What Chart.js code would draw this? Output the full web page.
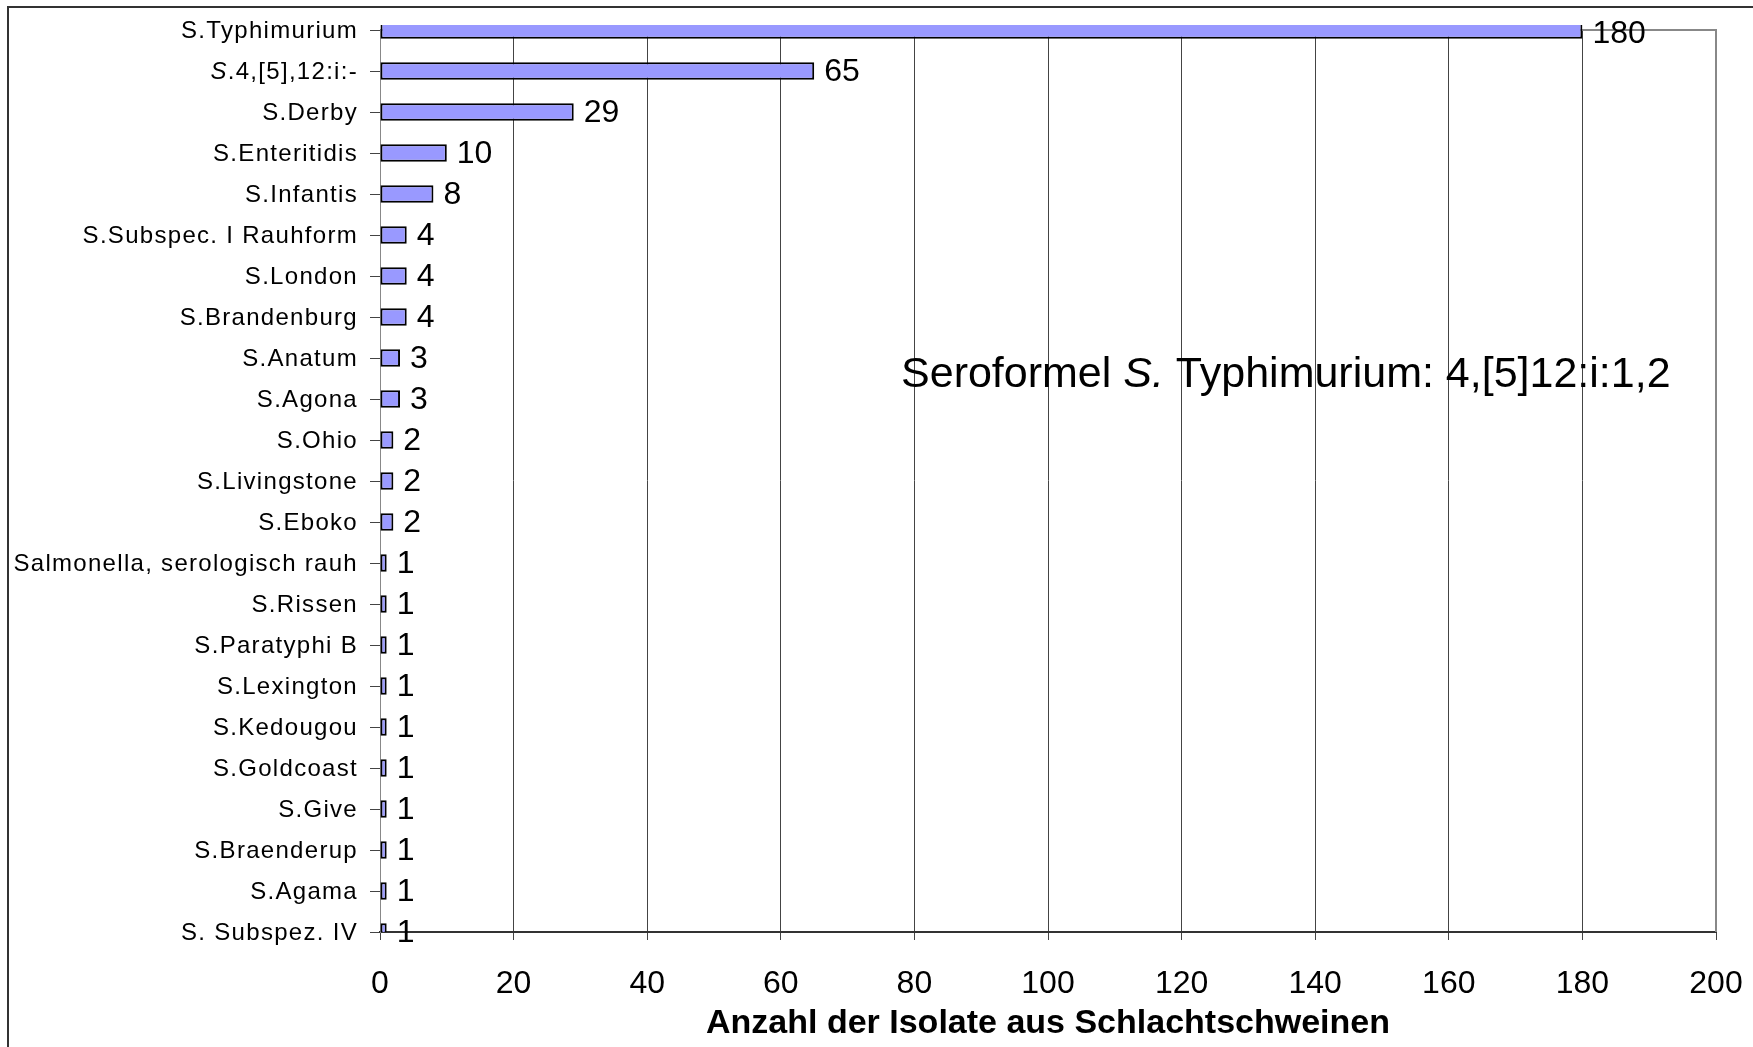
<!DOCTYPE html>
<html>
<head>
<meta charset="utf-8">
<script src="https://cdn.jsdelivr.net/npm/chart.js@4.4.1/dist/chart.umd.min.js"></script>
<style>
  html, body { margin: 0; padding: 0; background: #fff; }
  canvas { display: block; }
</style>
</head>
<body>
<canvas id="chart" width="1753" height="1047"></canvas>
<script>
// serovars (top to bottom) and number of isolates
const serovars = [
  'S.Typhimurium', 'S.4,[5],12:i:-', 'S.Derby', 'S.Enteritidis', 'S.Infantis',
  'S.Subspec. I Rauhform', 'S.London', 'S.Brandenburg', 'S.Anatum', 'S.Agona',
  'S.Ohio', 'S.Livingstone', 'S.Eboko', 'Salmonella, serologisch rauh', 'S.Rissen',
  'S.Paratyphi B', 'S.Lexington', 'S.Kedougou', 'S.Goldcoast', 'S.Give',
  'S.Braenderup', 'S.Agama', 'S. Subspez. IV'
];
const isolates = [180, 65, 29, 10, 8, 4, 4, 4, 3, 3, 2, 2, 2, 1, 1, 1, 1, 1, 1, 1, 1, 1, 1];
const xTickValues = [0, 20, 40, 60, 80, 100, 120, 140, 160, 180, 200];
const xTitle = 'Anzahl der Isolate aus Schlachtschweinen';
// italic genus prefix for some labels
const italicPrefix = { 1: 'S' };
// note text, [text, italic]
const noteParts = [['Seroformel ', false], ['S.', true], [' Typhimurium: 4,[5]12:i:1,2', false]];
const noteAt = { x: 78, y: 8.7 };

const FONT = '"Liberation Sans", Arial, Helvetica, sans-serif';

function drawParts(ctx, parts, x, y, size, align) {
  const widths = parts.map(p => {
    ctx.font = (p[1] ? 'italic ' : '') + size + 'px ' + FONT;
    return ctx.measureText(p[0]).width;
  });
  const total = widths.reduce((a, b) => a + b, 0);
  let cx = align === 'right' ? x - total : x;
  ctx.textAlign = 'left';
  parts.forEach((p, i) => {
    ctx.font = (p[1] ? 'italic ' : '') + size + 'px ' + FONT;
    ctx.fillText(p[0], cx, y);
    cx += widths[i];
  });
}

const decor = {
  id: 'decor',
  beforeDraw(chart) {
    const ctx = chart.ctx;
    ctx.save();
    ctx.strokeStyle = '#333';
    ctx.lineWidth = 2;
    ctx.beginPath();
    ctx.moveTo(8, chart.height);
    ctx.lineTo(8, 7);
    ctx.lineTo(chart.width, 7);
    ctx.stroke();
    ctx.restore();
  },
  beforeDatasetsDraw(chart) {
    const ctx = chart.ctx, a = chart.chartArea;
    ctx.save();
    ctx.strokeStyle = '#888';
    ctx.lineWidth = 2;
    ctx.beginPath();
    ctx.moveTo(a.left, a.top);
    ctx.lineTo(a.right, a.top);
    ctx.lineTo(a.right, a.bottom);
    ctx.stroke();
    ctx.restore();
  },
  afterDatasetsDraw(chart) {
    const ctx = chart.ctx;
    const meta = chart.getDatasetMeta(0);
    const xs = chart.scales.x, ys = chart.scales.y;
    ctx.save();
    ctx.fillStyle = '#000';
    ctx.textBaseline = 'middle';
    ctx.textAlign = 'left';
    ctx.font = '32px ' + FONT;
    meta.data.forEach((bar, i) => {
      ctx.fillText(String(isolates[i]), bar.x + 10, bar.y + (i === 0 ? 4 : 1));
    });

    // category labels
    if ('letterSpacing' in ctx) ctx.letterSpacing = '1.3px';
    const lx = ys.right - 22;
    serovars.forEach((lab, i) => {
      const y = ys.getPixelForTick(i) + 1;
      const pre = italicPrefix[i];
      const parts = pre ? [[pre, true], [lab.slice(pre.length), false]] : [[lab, false]];
      drawParts(ctx, parts, lx, y, 24, 'right');
    });
    if ('letterSpacing' in ctx) ctx.letterSpacing = '0px';

    // note
    ctx.textBaseline = 'alphabetic';
    drawParts(ctx, noteParts, xs.getPixelForValue(noteAt.x), ys.getPixelForValue(noteAt.y), 43, 'left');
    ctx.restore();
  }
};

new Chart(document.getElementById('chart'), {
  type: 'bar',
  data: {
    labels: serovars,
    datasets: [{
      data: isolates,
      backgroundColor: '#9999ff',
      borderColor: '#000',
      borderWidth: 2,
      borderSkipped: false,
      barPercentage: 0.43,
      categoryPercentage: 1,
      clip: { left: 0, top: 5, right: 0, bottom: 0 }
    }]
  },
  options: {
    indexAxis: 'y',
    responsive: false,
    animation: false,
    devicePixelRatio: 1,
    layout: { padding: { top: 30, right: 37, left: 0, bottom: 0 } },
    plugins: { legend: { display: false }, tooltip: { enabled: false } },
    scales: {
      x: {
        type: 'linear',
        min: 0,
        max: 200,
        afterBuildTicks: s => { s.ticks = xTickValues.map(v => ({ value: v })); },
        afterFit: s => {
          s.height = 115;
          s.paddingLeft = 0;
          s.paddingRight = 0;
        },
        grid: { color: '#444', lineWidth: 1, tickLength: 8 },
        border: { color: '#333', width: 2 },
        ticks: { color: '#000', font: { family: FONT, size: 32 }, padding: 25, maxRotation: 0 },
        title: {
          display: true,
          text: xTitle,
          color: '#000',
          font: { family: FONT, size: 34, weight: 'bold' },
          padding: { top: 0, bottom: 3 }
        }
      },
      y: {
        type: 'category',
        offset: false,
        afterFit: s => { s.width = 380; },
        grid: { offset: false, drawOnChartArea: false, drawTicks: true, tickLength: 10, color: '#444' },
        border: { color: '#888', width: 1 },
        ticks: { display: false }
      }
    }
  },
  plugins: [decor]
});
</script>
</body>
</html>
